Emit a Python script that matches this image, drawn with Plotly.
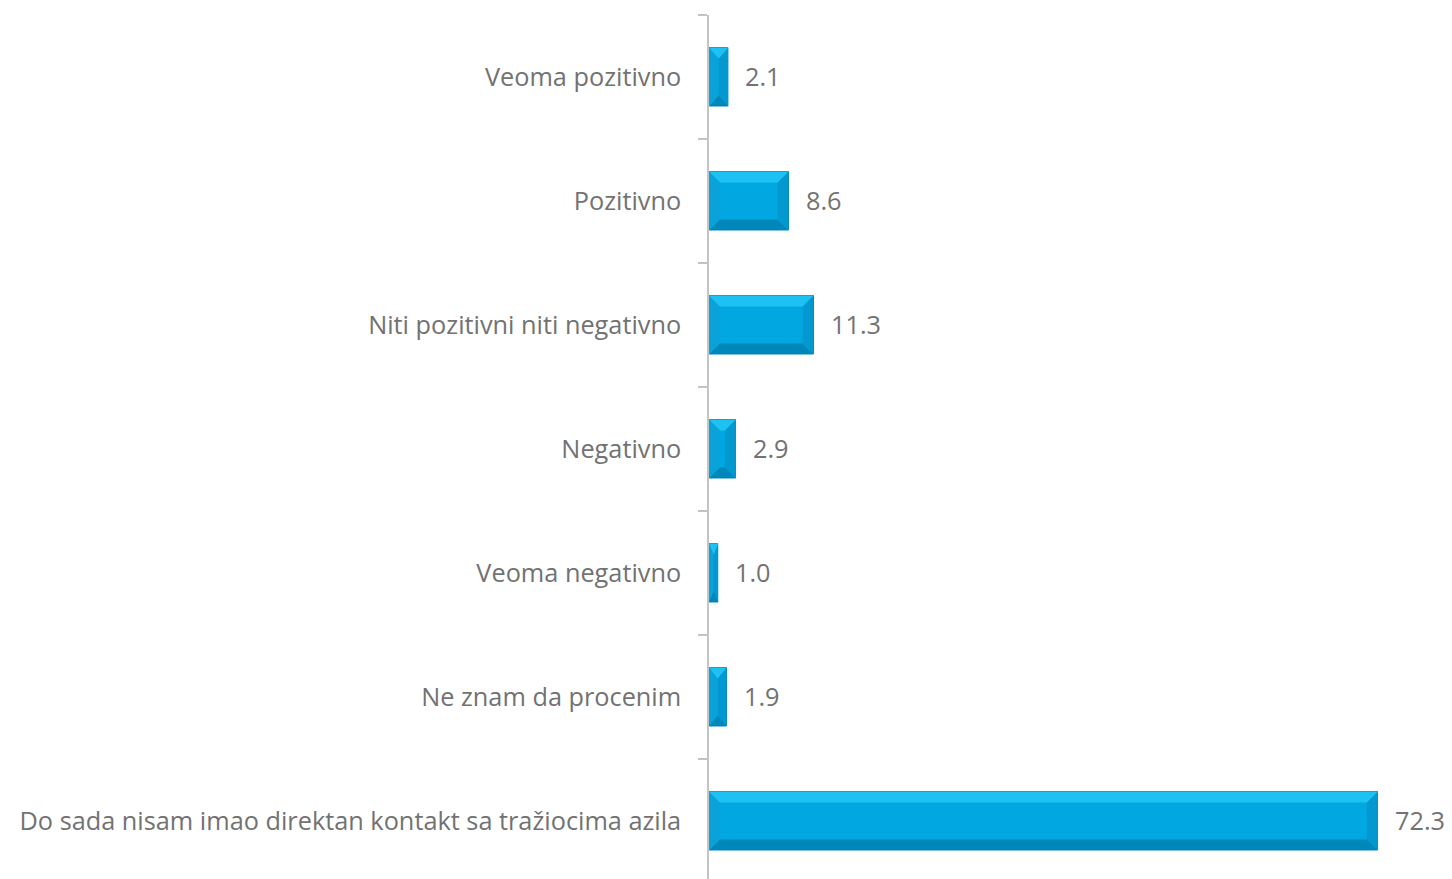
import plotly.graph_objects as go

categories = [
    "Veoma pozitivno",
    "Pozitivno",
    "Niti pozitivni niti negativno",
    "Negativno",
    "Veoma negativno",
    "Ne znam da procenim",
    "Do sada nisam imao direktan kontakt sa tražiocima azila",
]
values = [2.1, 8.6, 11.3, 2.9, 1.0, 1.9, 72.3]

W, H = 1452, 879
ML, MR, MT, MB = 709, 3, 15, 0
XMAX = 80
plot_w = W - ML - MR
plot_h = H - MT - MB
px_per_x = plot_w / XMAX
band_px = 124.0
Y_BOTTOM = len(categories) - 0.5 - (len(categories) * band_px - plot_h) / band_px

half = 0.2375
bevel_px = 11
by = bevel_px / band_px
FONT = "Open Sans"
FS = 25.3
GRAY = "#727272"

ypos = list(range(len(categories)))

fig = go.Figure()
fig.add_trace(go.Bar(
    x=values, y=ypos, orientation="h", width=2 * half,
    marker=dict(color="#00A7E1", line=dict(color="#0A7FAE", width=1)),
    hoverinfo="skip", showlegend=False,
))

def polys(kind):
    xs, ys = [], []
    for i, v in enumerate(values):
        bx = min(bevel_px / px_per_x, v / 2)
        yt, yb = i - half, i + half
        if kind == "top":
            pts = [(0, yt), (v, yt), (v - bx, yt + by), (bx, yt + by)]
        elif kind == "bottom":
            pts = [(0, yb), (v, yb), (v - bx, yb - by), (bx, yb - by)]
        elif kind == "left":
            pts = [(0, yt), (bx, yt + by), (bx, yb - by), (0, yb)]
        else:
            pts = [(v, yt), (v - bx, yt + by), (v - bx, yb - by), (v, yb)]
        for (a, b) in pts + [pts[0]]:
            xs.append(a)
            ys.append(b)
        xs.append(None)
        ys.append(None)
    return xs, ys

bevel_colors = {"left": "#0AA2D9", "right": "#0398CF", "top": "#1EC2F2", "bottom": "#0087BA"}
for k, c in bevel_colors.items():
    xs, ys = polys(k)
    fig.add_trace(go.Scatter(
        x=xs, y=ys, mode="lines", fill="toself", fillcolor=c,
        line=dict(width=0), hoverinfo="skip", showlegend=False,
    ))

for i, v in enumerate(values):
    fig.add_annotation(
        x=v, y=i, text=f"{v:.1f}", showarrow=False, xanchor="left",
        xshift=15, yshift=1,
        font=dict(family=FONT, size=FS, color=GRAY),
    )

fig.update_layout(
    width=W, height=H,
    margin=dict(l=ML, r=MR, t=MT, b=MB, autoexpand=False),
    plot_bgcolor="white", paper_bgcolor="white",
    bargap=0,
)
fig.update_xaxes(range=[0, XMAX], visible=False, showgrid=False, zeroline=False,
                 automargin=False)
fig.update_yaxes(
    range=[Y_BOTTOM, -0.5], automargin=False,
    tickmode="array", tickvals=ypos, ticktext=categories,
    ticks="", showgrid=False, zeroline=False,
    showline=True, linecolor="#C4C4C4", linewidth=1.5,
    ticklabelstandoff=21,
    tickfont=dict(family=FONT, size=FS, color=GRAY),
    minor=dict(
        tickmode="array",
        tickvals=[i - 0.5 for i in range(len(categories) + 1)],
        ticks="outside", ticklen=9, tickcolor="#C4C4C4", tickwidth=1.5,
        showgrid=False,
    ),
)

fig.write_html("out.html", config={"displayModeBar": False},
               post_script="document.body.style.margin='0px';")
